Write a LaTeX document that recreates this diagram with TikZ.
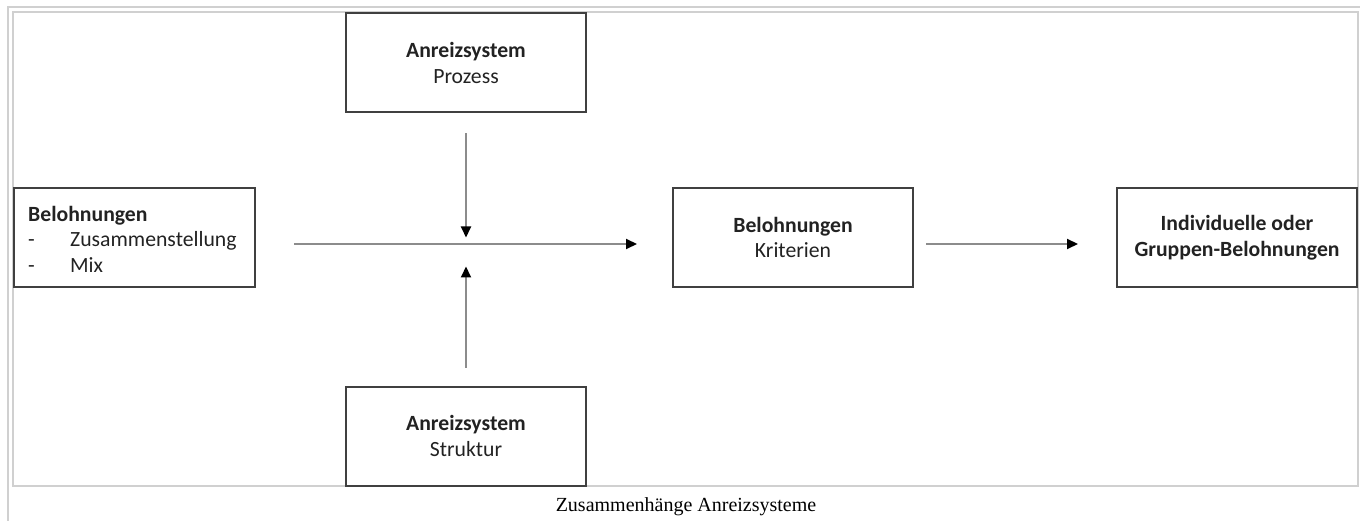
\documentclass[tikz,border=0pt]{standalone}
\usepackage{fontspec}
\setmainfont{Carlito}
\newfontfamily\capfont{Liberation Serif}
\usetikzlibrary{arrows.meta}
\definecolor{boxline}{HTML}{404040}
\definecolor{arrline}{HTML}{8C8C8C}
\definecolor{frameline}{HTML}{D0D0D0}
\definecolor{txt}{HTML}{222222}
\tikzset{
  box/.style={draw=boxline, line width=2pt, minimum width=240pt, minimum height=99pt, inner sep=0pt, text=txt, align=center, font=\fontsize{21.7}{25.5}\selectfont},
  conn/.style={draw=arrline, line width=2pt, -{Triangle[length=11pt,width=10pt,color=black]}},
  framestyle/.style={draw=frameline, line width=1.5pt}
}
\begin{document}
\begin{tikzpicture}[x=1pt,y=-1pt]
\useasboundingbox (0,0) rectangle (1360,521);
% frames
\draw[framestyle] (8,521) -- (8,7) -- (1360,7);
\draw[framestyle] (13,12) rectangle (1358,486);
% boxes
\node[box] (top) at (466,63) {\textbf{Anreizsystem}\\Prozess};
\node[box] (bot) at (466,436) {\textbf{Anreizsystem}\\Struktur};
\node[box, minimum width=241pt] (left) at (134.5,237.5) {};
\node[anchor=west, text=txt, align=left, inner sep=0pt, font=\fontsize{21.7}{25.5}\selectfont] (lefttext) at (28,239) {\textbf{Belohnungen}\\\makebox[42pt][l]{-}Zusammenstellung\\\makebox[42pt][l]{-}Mix};
\node[box] (mid) at (793,237.5) {\textbf{Belohnungen}\\Kriterien};
\node[box, font=\bfseries\fontsize{21.7}{25.5}\selectfont] (right) at (1237,237.5) {Individuelle oder\\Gruppen-Belohnungen};
% connectors
\draw[conn] ([xshift=38pt,yshift=-6.5pt]left.east) -- ([xshift=-35pt,yshift=-6.5pt]mid.west);
\draw[conn] ([yshift=-20pt]top.south) -- ([yshift=-124pt]top.south);
\draw[conn] ([yshift=18pt]bot.north) -- ([yshift=119pt]bot.north);
\draw[conn] ([xshift=12pt,yshift=-6.5pt]mid.east) -- ([xshift=-38pt,yshift=-6.5pt]right.west);
% caption
\node[font=\capfont\fontsize{20}{24}\selectfont, inner sep=0pt] (cap) at (686,507) {Zusammenhänge Anreizsysteme};
\end{tikzpicture}
\end{document}
